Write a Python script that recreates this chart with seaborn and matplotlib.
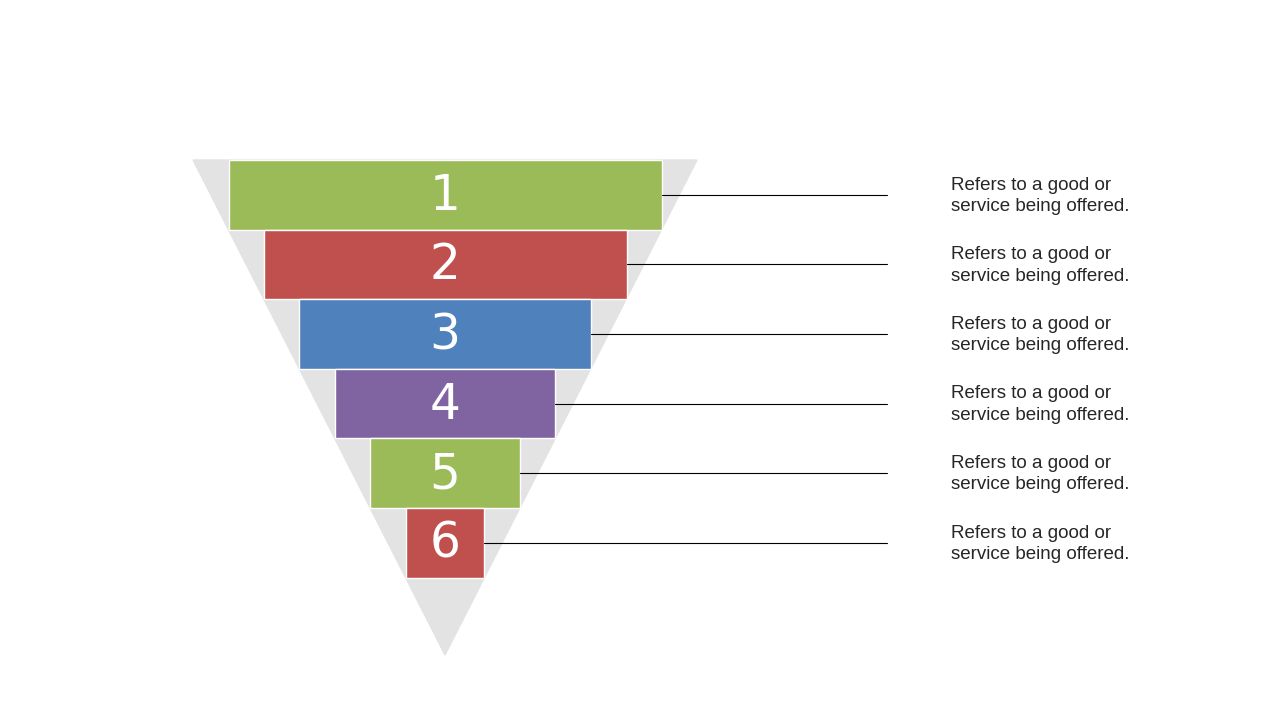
import matplotlib.pyplot as plt
import seaborn as sns

# funnel stages
stages = ['1', '2', '3', '4', '5', '6']
widths = [433, 363, 292, 220, 150, 78]
colors = ['#9BBB59', '#C0504D', '#4F81BD', '#8064A2', '#9BBB59', '#C0504D']
notes = ['Refers to a good or\nservice being offered.'] * 6

sns.set_style('white')
fig = plt.figure(figsize=(12.8, 7.2), dpi=100)
ax = fig.add_axes([0, 0, 1, 1])
ax.set_xlim(0, 1280)
ax.set_ylim(720, 0)
ax.axis('off')

cx = 445
top = 160
h = 69.6

# grey triangle behind the bars
ax.fill([193, 697, 445], [top, top, 655], color='#E3E3E3', zorder=1)

ys = [top + h * (i + 0.5) for i in range(len(stages))]
lefts = [cx - w / 2 for w in widths]
ax.barh(ys, widths, left=lefts, height=h, color=colors, zorder=2)

for y, w, s, n in zip(ys, widths, stages, notes):
    ax.text(cx, y + 1, s, color='white', fontsize=35, ha='center', va='center', zorder=3)
    ax.plot([cx + w / 2, 887], [y, y], color='black', lw=0.8, zorder=3)
    ax.text(951, y + 1, n, fontsize=13.5, ha='left', va='center',
            family='Liberation Sans', linespacing=1.35)

fig.savefig('out.png', dpi=100)
